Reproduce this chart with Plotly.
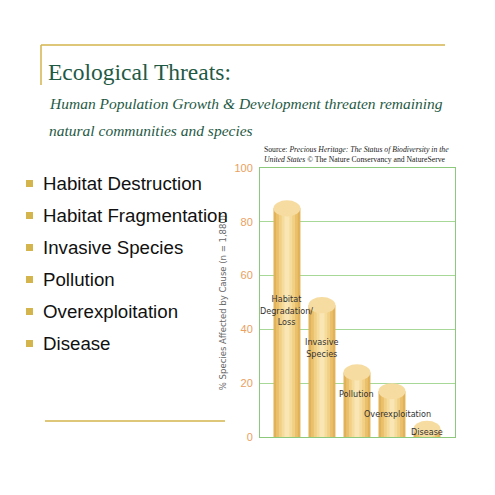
import plotly.graph_objects as go

causes = ["Habitat Degradation/Loss", "Invasive Species", "Pollution", "Overexploitation", "Disease"]
labels = ["Habitat<br>Degradation/<br>Loss", "Invasive<br>Species", "Pollution", "Overexploitation", "Disease"]
percent = [85, 49, 24, 17, 3]
label_y = [47, 33, 16, 8.5, 2]
label_dx = [0, 0, 0, 0.15, 0]
y_ticks = [0, 20, 40, 60, 80, 100]
bullets = ["Habitat Destruction", "Habitat Fragmentation", "Invasive Species",
           "Pollution", "Overexploitation", "Disease"]

W, H = 495, 495
OFF = 8  # page body margin
def px(x): return (x - OFF) / W
def py(y): return 1 - (y - OFF) / H

x = list(range(len(causes)))
fig = go.Figure()

# layered bars give a rough cylinder shading
layers = [(0.77, "#e2b258"), (0.62, "#eac06c"), (0.46, "#f1cf84"), (0.30, "#f6dc9c"), (0.14, "#f9e6b4")]
for w, c in layers:
    fig.add_trace(go.Bar(x=x, y=percent, width=w, marker=dict(color=c, line_width=0),
                         hoverinfo="skip", showlegend=False))

# caps of the cylinders
for i, v in enumerate(percent):
    fig.add_shape(type="circle", xref="x", yref="y", x0=i - 0.385, x1=i + 0.385,
                  y0=v - 3, y1=v + 3, fillcolor="#f6dca0", line_width=0, layer="above")

for i, (lab, ly) in enumerate(zip(labels, label_y)):
    fig.add_annotation(x=i + label_dx[i], y=ly, text=lab, showarrow=False,
                       font=dict(family="DejaVu Sans Condensed, Arial", size=9, color="#333"))

fig.update_layout(
    width=W, height=H, margin=dict(l=0, r=0, t=0, b=0),
    paper_bgcolor="white", plot_bgcolor="white", barmode="overlay",
    xaxis=dict(domain=[px(260), px(455)], range=[-0.77, 4.8], showticklabels=False, automargin=False,
               showgrid=False, zeroline=False, showline=True, linecolor="#8cc97a", mirror=True),
    yaxis=dict(domain=[py(437), py(168)], range=[0, 100], tickvals=y_ticks, automargin=False,
               tickfont=dict(family="Arial", size=11, color="#eaa060"),
               gridcolor="#a8d898", zeroline=False, showline=True, linecolor="#8cc97a",
               mirror=True, ticks="", ticklabelstandoff=4,
               title=dict(text="% Species Affected by Cause (n = 1,880)", standoff=6,
                          font=dict(family="DejaVu Sans", size=8.5, color="#666"))),
)

# slide decoration
gold = "#d4b44c"
fig.add_shape(type="line", xref="paper", yref="paper", x0=px(41), x1=px(445), y0=py(45), y1=py(45),
              line=dict(color=gold, width=1.5))
fig.add_shape(type="line", xref="paper", yref="paper", x0=px(41), x1=px(41), y0=py(45), y1=py(85),
              line=dict(color=gold, width=1.5))
fig.add_shape(type="line", xref="paper", yref="paper", x0=px(45), x1=px(225), y0=py(421), y1=py(421),
              line=dict(color=gold, width=1.5))

fig.add_annotation(xref="paper", yref="paper", x=px(46), y=py(72), xanchor="left", yanchor="middle",
                   text="Ecological Threats:", showarrow=False,
                   font=dict(family="Liberation Serif", size=23.5, color="#1f5a45"))
for yy, t in [(103, "Human Population Growth &amp; Development threaten remaining"),
              (130, "natural communities and species")]:
    fig.add_annotation(xref="paper", yref="paper", x=px(47), y=py(yy), xanchor="left", yanchor="middle",
                       text="<i>" + t + "</i>", showarrow=False,
                       font=dict(family="Liberation Serif", size=15.5, color="#1f5a45"))
fig.add_annotation(xref="paper", yref="paper", x=px(262), y=py(154), xanchor="left", yanchor="middle",
                   align="left", showarrow=False,
                   text="Source: <i>Precious Heritage: The Status of Biodiversity in the<br>United States</i> © The Nature Conservancy and NatureServe",
                   font=dict(family="Liberation Serif", size=7.7, color="#222"))

for k, b in enumerate(bullets):
    yy = 183 + 32 * k
    fig.add_shape(type="rect", xref="paper", yref="paper", x0=px(26), x1=px(33), y0=py(yy + 4), y1=py(yy - 3),
                  fillcolor=gold, line_width=0)
    fig.add_annotation(xref="paper", yref="paper", x=px(41), y=py(yy), xanchor="left", yanchor="middle",
                       text=b, showarrow=False, font=dict(family="Liberation Sans", size=18.7, color="#111"))

fig.write_html("out.html")
